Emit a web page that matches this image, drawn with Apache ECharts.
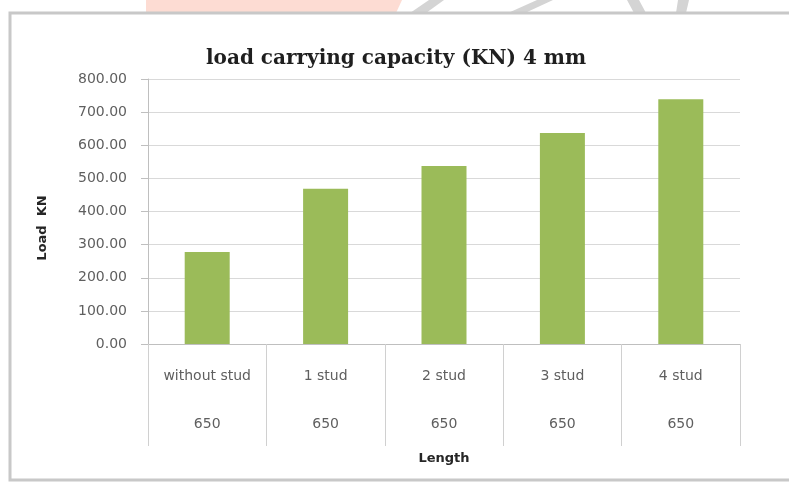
<!DOCTYPE html>
<html>
<head>
<meta charset="utf-8">
<script src="https://cdn.jsdelivr.net/npm/echarts@6/dist/echarts.min.js"></script>
<style>
  html, body { margin: 0; padding: 0; background: #ffffff; }
  #chart { width: 789px; height: 482px; }
</style>
</head>
<body>
<div id="chart"></div>
<script>
const titleText = 'load carrying capacity (KN) 4 mm';
const categories = ['without stud', '1 stud', '2 stud', '3 stud', '4 stud'];
const lengths = ['650', '650', '650', '650', '650'];
const loads = [278, 469, 537, 637, 739];
const yTicks = { min: 0, max: 800, interval: 100 };
const yName = 'Load  KN';
const xName = 'Length';

const chart = echarts.init(document.getElementById('chart'), null, { renderer: 'canvas' });

const option = {
  backgroundColor: '#ffffff',
  animation: false,
  title: {
    text: titleText,
    left: 201,
    top: 44,
    textStyle: { fontFamily: 'DejaVu Serif', fontWeight: 'bold', fontSize: 20, color: '#1f1f1f' }
  },
  graphic: [
    { type: 'polygon', z: -10, shape: { points: [[146, 0], [402, 0], [396, 13], [146, 13]] }, style: { fill: '#fddcd3' } },
    { type: 'polygon', z: -10, shape: { points: [[410, 13], [426, 13], [444, 0], [429, 0]] }, style: { fill: '#d4d4d4' } },
    { type: 'polygon', z: -10, shape: { points: [[508, 13], [525, 13], [553, 0], [537, 0]] }, style: { fill: '#d4d4d4' } },
    { type: 'polygon', z: -10, shape: { points: [[627, 0], [639, 0], [646, 13], [634, 13]] }, style: { fill: '#d4d4d4' } },
    { type: 'polygon', z: -10, shape: { points: [[678, 0], [689, 0], [686, 13], [676, 13]] }, style: { fill: '#d4d4d4' } },
    { type: 'rect', z: -5, shape: { x: 10, y: 13, width: 800, height: 467 }, style: { fill: 'transparent', stroke: '#c8c8c8', lineWidth: 3 } },
    {
      type: 'text', x: 43, y: 228, rotation: Math.PI / 2,
      style: { text: yName, fontFamily: 'DejaVu Sans', fontWeight: 'bold', fontSize: 13, fill: '#262626', align: 'center', verticalAlign: 'middle' }
    }
  ],
  grid: { left: 148, right: 49, top: 79, bottom: 138, containLabel: false, outerBoundsMode: 'none' },
  xAxis: {
    type: 'category',
    data: categories,
    name: xName,
    nameLocation: 'middle',
    nameGap: 108,
    nameTextStyle: { fontFamily: 'DejaVu Sans', fontWeight: 'bold', fontSize: 13, color: '#262626' },
    axisLine: { lineStyle: { color: '#bfbfbf', width: 1 } },
    axisTick: { show: true, interval: 0, length: 102, lineStyle: { color: '#d0d0d0', width: 1 } },
    axisLabel: {
      interval: 0,
      margin: 24,
      fontFamily: 'DejaVu Sans',
      fontSize: 14,
      color: '#5f5f5f',
      lineHeight: 16,
      formatter: function (v, i) { return v + '\n\n\n' + lengths[i]; }
    },
    splitLine: { show: false }
  },
  yAxis: {
    type: 'value',
    min: yTicks.min,
    max: yTicks.max,
    interval: yTicks.interval,
    axisLine: { show: true, lineStyle: { color: '#bfbfbf', width: 1 } },
    axisTick: { show: true, length: 7, lineStyle: { color: '#bfbfbf' } },
    axisLabel: {
      margin: 21,
      fontFamily: 'DejaVu Sans',
      fontSize: 14,
      color: '#5f5f5f',
      formatter: function (v) { return v.toFixed(2); }
    },
    splitLine: { show: true, lineStyle: { color: '#d9d9d9', width: 1 } }
  },
  series: [{
    type: 'bar',
    data: loads,
    barWidth: 45,
    itemStyle: { color: '#9bbb59' }
  }]
};

chart.setOption(option);
</script>
</body>
</html>
